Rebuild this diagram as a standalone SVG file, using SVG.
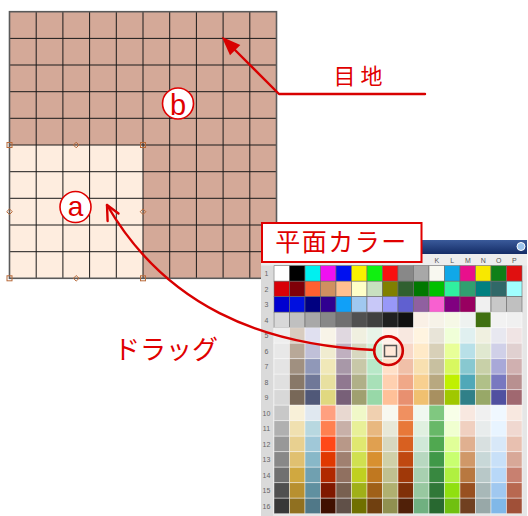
<svg xmlns="http://www.w3.org/2000/svg" width="528" height="516" viewBox="0 0 528 516">
<defs>
<style>
.lbl{font-family:"Noto Sans CJK JP","Noto Sans",sans-serif;fill:#E00000}
.ltr{font-family:"Liberation Sans","DejaVu Sans",sans-serif;fill:#E00000;text-anchor:middle}
.rn{font-family:"Liberation Sans",sans-serif;font-size:7px;fill:#666;text-anchor:middle}
.cl{font-family:"Liberation Sans",sans-serif;font-size:7px;fill:#555;text-anchor:middle}
.d rect{stroke:#6a6a6a;stroke-width:0.6}
.l rect{stroke:#ffffff;stroke-opacity:0.55;stroke-width:0.8}
.arr{fill:none;stroke:#D80000;stroke-width:2.4;stroke-linecap:round;stroke-linejoin:round}
.hd{fill:none;stroke:#B86A3A;stroke-width:1}
</style>
<linearGradient id="tb" x1="0" y1="0" x2="0" y2="1">
<stop offset="0" stop-color="#3A5A9A"/>
<stop offset="1" stop-color="#142C66"/>
</linearGradient>
</defs>
<rect width="528" height="516" fill="#ffffff"/>

<g id="tile-grid">
<rect x="9.5" y="11.7" width="267" height="266.6" fill="#D4A998"/>
<rect x="9.5" y="145" width="133.5" height="133.3" fill="#FEEDDF"/>
<path d="M36.2 11.7V278.3M62.9 11.7V278.3M89.6 11.7V278.3M116.3 11.7V278.3M143 11.7V278.3M169.7 11.7V278.3M196.4 11.7V278.3M223.1 11.7V278.3M249.8 11.7V278.3M9.5 38.4H276.5M9.5 65H276.5M9.5 91.7H276.5M9.5 118.3H276.5M9.5 145H276.5M9.5 171.7H276.5M9.5 198.3H276.5M9.5 225H276.5M9.5 251.7H276.5" stroke="#1a1a1a" stroke-width="1" fill="none"/>
<rect x="9.5" y="11.7" width="267" height="266.6" fill="none" stroke="#5a5a5a" stroke-width="1.6"/>
<g id="handles">
<rect class="hd" x="7" y="142.5" width="5" height="5"/>
<rect class="hd" x="140.5" y="142.5" width="5" height="5"/>
<rect class="hd" x="7" y="275.8" width="5" height="5"/>
<rect class="hd" x="140.5" y="275.8" width="5" height="5"/>
<path class="hd" d="M76.2 142.2L79 145L76.2 147.8L73.4 145Z"/>
<path class="hd" d="M76.2 275.5L79 278.3L76.2 281.1L73.4 278.3Z"/>
<path class="hd" d="M9.5 208.9L12.3 211.7L9.5 214.5L6.7 211.7Z"/>
<path class="hd" d="M143 208.9L145.8 211.7L143 214.5L140.2 211.7Z"/>
</g>
</g>

<g id="marker-b">
<circle cx="178" cy="103.5" r="15.5" fill="#ffffff" stroke="#E00000" stroke-width="1.6"/>
<text class="ltr" x="178" y="114.5" font-size="29">b</text>
</g>
<g id="marker-a">
<circle cx="75.5" cy="207" r="15.5" fill="#ffffff" stroke="#E00000" stroke-width="1.6"/>
<text class="ltr" x="75.5" y="215.5" font-size="28">a</text>
</g>

<g id="palette">
<rect x="261" y="240" width="266" height="276" fill="#E6E6E6"/>
<rect x="261" y="240" width="266" height="14" fill="url(#tb)"/>
<circle cx="521" cy="246.5" r="4" fill="#9CC4EC" stroke="#ffffff" stroke-width="1"/>
<rect x="261" y="254" width="266" height="11.5" fill="#EDEDED"/>
<rect x="261" y="265.5" width="12" height="250.5" fill="#DADADA"/>
<g id="col-letters">
<text class="cl" x="436.8" y="262.5">K</text>
<text class="cl" x="452.3" y="262.5">L</text>
<text class="cl" x="467.8" y="262.5">M</text>
<text class="cl" x="483.3" y="262.5">N</text>
<text class="cl" x="498.8" y="262.5">O</text>
<text class="cl" x="514.3" y="262.5">P</text>
</g>
<g id="row-numbers">
<text class="rn" x="266.5" y="276">1</text>
<text class="rn" x="266.5" y="291.5">2</text>
<text class="rn" x="266.5" y="307">3</text>
<text class="rn" x="266.5" y="322.5">4</text>
<text class="rn" x="266.5" y="338">5</text>
<text class="rn" x="266.5" y="353.5">6</text>
<text class="rn" x="266.5" y="369">7</text>
<text class="rn" x="266.5" y="384.5">8</text>
<text class="rn" x="266.5" y="400">9</text>
<text class="rn" x="266.5" y="415.5">10</text>
<text class="rn" x="266.5" y="431">11</text>
<text class="rn" x="266.5" y="446.5">12</text>
<text class="rn" x="266.5" y="462">13</text>
<text class="rn" x="266.5" y="477.5">14</text>
<text class="rn" x="266.5" y="493">15</text>
<text class="rn" x="266.5" y="508.5">16</text>
</g>
<g id="swatches" transform="translate(274,265.7)">
<g class="d" transform="translate(0,0)">
<rect x="0" width="15.5" height="15.5" fill="#FFFFFF"/><rect x="15.5" width="15.5" height="15.5" fill="#000000"/><rect x="31" width="15.5" height="15.5" fill="#00F0F0"/><rect x="46.5" width="15.5" height="15.5" fill="#F010F0"/><rect x="62" width="15.5" height="15.5" fill="#0010F0"/><rect x="77.5" width="15.5" height="15.5" fill="#F8F000"/><rect x="93" width="15.5" height="15.5" fill="#10F010"/><rect x="108.5" width="15.5" height="15.5" fill="#F81010"/><rect x="124" width="15.5" height="15.5" fill="#888888"/><rect x="139.5" width="15.5" height="15.5" fill="#A8A8A8"/><rect x="155" width="15.5" height="15.5" fill="#F8F8F0"/><rect x="170.5" width="15.5" height="15.5" fill="#10A8E8"/><rect x="186" width="15.5" height="15.5" fill="#E8108C"/><rect x="201.5" width="15.5" height="15.5" fill="#F8E800"/><rect x="217" width="15.5" height="15.5" fill="#108018"/><rect x="232.5" width="15.5" height="15.5" fill="#E01010"/>
</g>
<g class="d" transform="translate(0,15.5)">
<rect x="0" width="15.5" height="15.5" fill="#D80008"/><rect x="15.5" width="15.5" height="15.5" fill="#800008"/><rect x="31" width="15.5" height="15.5" fill="#FF6030"/><rect x="46.5" width="15.5" height="15.5" fill="#D09060"/><rect x="62" width="15.5" height="15.5" fill="#FFC090"/><rect x="77.5" width="15.5" height="15.5" fill="#FFFFC8"/><rect x="93" width="15.5" height="15.5" fill="#C8E0C0"/><rect x="108.5" width="15.5" height="15.5" fill="#808000"/><rect x="124" width="15.5" height="15.5" fill="#306030"/><rect x="139.5" width="15.5" height="15.5" fill="#007800"/><rect x="155" width="15.5" height="15.5" fill="#00C000"/><rect x="170.5" width="15.5" height="15.5" fill="#30F0A0"/><rect x="186" width="15.5" height="15.5" fill="#30A070"/><rect x="201.5" width="15.5" height="15.5" fill="#008080"/><rect x="217" width="15.5" height="15.5" fill="#306868"/><rect x="232.5" width="15.5" height="15.5" fill="#A0FFFF"/>
</g>
<g class="d" transform="translate(0,31)">
<rect x="0" width="15.5" height="15.5" fill="#0000D0"/><rect x="15.5" width="15.5" height="15.5" fill="#0010E0"/><rect x="31" width="15.5" height="15.5" fill="#000080"/><rect x="46.5" width="15.5" height="15.5" fill="#300090"/><rect x="62" width="15.5" height="15.5" fill="#10A0F8"/><rect x="77.5" width="15.5" height="15.5" fill="#A0C8F0"/><rect x="93" width="15.5" height="15.5" fill="#C8C8F8"/><rect x="108.5" width="15.5" height="15.5" fill="#9898F8"/><rect x="124" width="15.5" height="15.5" fill="#6060D0"/><rect x="139.5" width="15.5" height="15.5" fill="#9060A0"/><rect x="155" width="15.5" height="15.5" fill="#F860D0"/><rect x="170.5" width="15.5" height="15.5" fill="#800080"/><rect x="186" width="15.5" height="15.5" fill="#980060"/><rect x="201.5" width="15.5" height="15.5" fill="#F0F0F0"/><rect x="217" width="15.5" height="15.5" fill="#C8C8C8"/><rect x="232.5" width="15.5" height="15.5" fill="#C0C0C0"/>
</g>
<g class="d" transform="translate(0,46.5)">
<rect x="0" width="15.5" height="15.5" fill="#D8D8D8"/><rect x="15.5" width="15.5" height="15.5" fill="#C0C0C0"/><rect x="31" width="15.5" height="15.5" fill="#A8A8A8"/><rect x="46.5" width="15.5" height="15.5" fill="#888888"/><rect x="62" width="15.5" height="15.5" fill="#707070"/><rect x="77.5" width="15.5" height="15.5" fill="#505050"/><rect x="93" width="15.5" height="15.5" fill="#404040"/><rect x="108.5" width="15.5" height="15.5" fill="#202020"/><rect x="124" width="15.5" height="15.5" fill="#101010"/>
</g>
<g class="l" transform="translate(0,46.5)">
<rect x="139.5" width="15.5" height="15.5" fill="#FAF0E6"/><rect x="155" width="15.5" height="15.5" fill="#F6F2E8"/><rect x="170.5" width="15.5" height="15.5" fill="#F6F8E6"/><rect x="186" width="15.5" height="15.5" fill="#EEF2F0"/><rect x="201.5" width="15.5" height="15.5" fill="#407010"/><rect x="217" width="15.5" height="15.5" fill="#F2F2F2"/><rect x="232.5" width="15.5" height="15.5" fill="#F0F0F0"/>
</g>
<g class="l" transform="translate(0,62)">
<rect x="0" width="15.5" height="15.5" fill="#EEEEEE"/><rect x="15.5" width="15.5" height="15.5" fill="#D8CCC0"/><rect x="31" width="15.5" height="15.5" fill="#E0E0F0"/><rect x="46.5" width="15.5" height="15.5" fill="#F8F4E8"/><rect x="62" width="15.5" height="15.5" fill="#E0D8E0"/><rect x="77.5" width="15.5" height="15.5" fill="#F0F0E0"/><rect x="93" width="15.5" height="15.5" fill="#E8F4E8"/><rect x="108.5" width="15.5" height="15.5" fill="#FFF0E8"/><rect x="124" width="15.5" height="15.5" fill="#F8E8E0"/><rect x="139.5" width="15.5" height="15.5" fill="#FFF4E0"/><rect x="155" width="15.5" height="15.5" fill="#E8E4D8"/><rect x="170.5" width="15.5" height="15.5" fill="#F0FFD8"/><rect x="186" width="15.5" height="15.5" fill="#E0F0F0"/><rect x="201.5" width="15.5" height="15.5" fill="#F0F0E0"/><rect x="217" width="15.5" height="15.5" fill="#E8E8F0"/><rect x="232.5" width="15.5" height="15.5" fill="#F0E4E4"/>
</g>
<g class="l" transform="translate(0,77.5)">
<rect x="0" width="15.5" height="15.5" fill="#E8E8E8"/><rect x="15.5" width="15.5" height="15.5" fill="#B8A898"/><rect x="31" width="15.5" height="15.5" fill="#C0C0D8"/><rect x="46.5" width="15.5" height="15.5" fill="#F0ECD0"/><rect x="62" width="15.5" height="15.5" fill="#C0B0C0"/><rect x="77.5" width="15.5" height="15.5" fill="#D8D8C0"/><rect x="93" width="15.5" height="15.5" fill="#D0F0D8"/><rect x="108.5" width="15.5" height="15.5" fill="#FFE8D8"/><rect x="124" width="15.5" height="15.5" fill="#F8D8C8"/><rect x="139.5" width="15.5" height="15.5" fill="#FFEAC8"/><rect x="155" width="15.5" height="15.5" fill="#D8D0B8"/><rect x="170.5" width="15.5" height="15.5" fill="#E8FF98"/><rect x="186" width="15.5" height="15.5" fill="#B8E0E8"/><rect x="201.5" width="15.5" height="15.5" fill="#E0E8D0"/><rect x="217" width="15.5" height="15.5" fill="#D0D0E8"/><rect x="232.5" width="15.5" height="15.5" fill="#E0D0D0"/>
</g>
<g class="l" transform="translate(0,93)">
<rect x="0" width="15.5" height="15.5" fill="#E4E4E4"/><rect x="15.5" width="15.5" height="15.5" fill="#A09080"/><rect x="31" width="15.5" height="15.5" fill="#9098B8"/><rect x="46.5" width="15.5" height="15.5" fill="#F0E8B8"/><rect x="62" width="15.5" height="15.5" fill="#A898A8"/><rect x="77.5" width="15.5" height="15.5" fill="#C8C8A8"/><rect x="93" width="15.5" height="15.5" fill="#B8E8C8"/><rect x="108.5" width="15.5" height="15.5" fill="#FFE0C8"/><rect x="124" width="15.5" height="15.5" fill="#F0C0A8"/><rect x="139.5" width="15.5" height="15.5" fill="#F8E0B0"/><rect x="155" width="15.5" height="15.5" fill="#C8C0A0"/><rect x="170.5" width="15.5" height="15.5" fill="#D8F860"/><rect x="186" width="15.5" height="15.5" fill="#88C8D0"/><rect x="201.5" width="15.5" height="15.5" fill="#C8D0A8"/><rect x="217" width="15.5" height="15.5" fill="#A8A8D8"/><rect x="232.5" width="15.5" height="15.5" fill="#D0B0B0"/>
</g>
<g class="l" transform="translate(0,108.5)">
<rect x="0" width="15.5" height="15.5" fill="#E0E0E0"/><rect x="15.5" width="15.5" height="15.5" fill="#887868"/><rect x="31" width="15.5" height="15.5" fill="#707898"/><rect x="46.5" width="15.5" height="15.5" fill="#E8E0A0"/><rect x="62" width="15.5" height="15.5" fill="#907890"/><rect x="77.5" width="15.5" height="15.5" fill="#B0B088"/><rect x="93" width="15.5" height="15.5" fill="#A8E0B8"/><rect x="108.5" width="15.5" height="15.5" fill="#FFD0B0"/><rect x="124" width="15.5" height="15.5" fill="#F0A888"/><rect x="139.5" width="15.5" height="15.5" fill="#F8D090"/><rect x="155" width="15.5" height="15.5" fill="#B8A880"/><rect x="170.5" width="15.5" height="15.5" fill="#C0F000"/><rect x="186" width="15.5" height="15.5" fill="#50A8B8"/><rect x="201.5" width="15.5" height="15.5" fill="#B0C088"/><rect x="217" width="15.5" height="15.5" fill="#7878C0"/><rect x="232.5" width="15.5" height="15.5" fill="#B89090"/>
</g>
<g class="l" transform="translate(0,124)">
<rect x="0" width="15.5" height="15.5" fill="#D8D8D8"/><rect x="15.5" width="15.5" height="15.5" fill="#786858"/><rect x="31" width="15.5" height="15.5" fill="#505878"/><rect x="46.5" width="15.5" height="15.5" fill="#E0D880"/><rect x="62" width="15.5" height="15.5" fill="#786078"/><rect x="77.5" width="15.5" height="15.5" fill="#A0A070"/><rect x="93" width="15.5" height="15.5" fill="#98D8A8"/><rect x="108.5" width="15.5" height="15.5" fill="#FFC098"/><rect x="124" width="15.5" height="15.5" fill="#E89070"/><rect x="139.5" width="15.5" height="15.5" fill="#F0C070"/><rect x="155" width="15.5" height="15.5" fill="#A89060"/><rect x="170.5" width="15.5" height="15.5" fill="#A0C800"/><rect x="186" width="15.5" height="15.5" fill="#308088"/><rect x="201.5" width="15.5" height="15.5" fill="#98A868"/><rect x="217" width="15.5" height="15.5" fill="#5050A0"/><rect x="232.5" width="15.5" height="15.5" fill="#A06870"/>
</g>
<g class="l" transform="translate(0,139.5)">
<rect x="0" width="15.5" height="15.5" fill="#C8C8C8"/><rect x="15.5" width="15.5" height="15.5" fill="#F8F0D8"/><rect x="31" width="15.5" height="15.5" fill="#E0E8F0"/><rect x="46.5" width="15.5" height="15.5" fill="#FFA080"/><rect x="62" width="15.5" height="15.5" fill="#E8D8D0"/><rect x="77.5" width="15.5" height="15.5" fill="#F0F8C8"/><rect x="93" width="15.5" height="15.5" fill="#F0D0B0"/><rect x="108.5" width="15.5" height="15.5" fill="#F8F8F0"/><rect x="124" width="15.5" height="15.5" fill="#F09060"/><rect x="139.5" width="15.5" height="15.5" fill="#F0F8F0"/><rect x="155" width="15.5" height="15.5" fill="#80C880"/><rect x="170.5" width="15.5" height="15.5" fill="#F8FFE8"/><rect x="186" width="15.5" height="15.5" fill="#F8E8E0"/><rect x="201.5" width="15.5" height="15.5" fill="#F0F0F0"/><rect x="217" width="15.5" height="15.5" fill="#F0F8FF"/><rect x="232.5" width="15.5" height="15.5" fill="#F8E8E0"/>
</g>
<g class="l" transform="translate(0,155)">
<rect x="0" width="15.5" height="15.5" fill="#B0B0B0"/><rect x="15.5" width="15.5" height="15.5" fill="#F0E0B0"/><rect x="31" width="15.5" height="15.5" fill="#B8D8E0"/><rect x="46.5" width="15.5" height="15.5" fill="#FF8050"/><rect x="62" width="15.5" height="15.5" fill="#C8B0A8"/><rect x="77.5" width="15.5" height="15.5" fill="#E8F098"/><rect x="93" width="15.5" height="15.5" fill="#E8B880"/><rect x="108.5" width="15.5" height="15.5" fill="#E8E8D8"/><rect x="124" width="15.5" height="15.5" fill="#E87838"/><rect x="139.5" width="15.5" height="15.5" fill="#E0F0E0"/><rect x="155" width="15.5" height="15.5" fill="#68B868"/><rect x="170.5" width="15.5" height="15.5" fill="#F0FFD0"/><rect x="186" width="15.5" height="15.5" fill="#F0D0C0"/><rect x="201.5" width="15.5" height="15.5" fill="#E8ECEC"/><rect x="217" width="15.5" height="15.5" fill="#E8F4FF"/><rect x="232.5" width="15.5" height="15.5" fill="#F0D8D0"/>
</g>
<g class="l" transform="translate(0,170.5)">
<rect x="0" width="15.5" height="15.5" fill="#989898"/><rect x="15.5" width="15.5" height="15.5" fill="#E8D090"/><rect x="31" width="15.5" height="15.5" fill="#A0C8D8"/><rect x="46.5" width="15.5" height="15.5" fill="#FF4818"/><rect x="62" width="15.5" height="15.5" fill="#B89888"/><rect x="77.5" width="15.5" height="15.5" fill="#E0E870"/><rect x="93" width="15.5" height="15.5" fill="#E0A050"/><rect x="108.5" width="15.5" height="15.5" fill="#D8D8C0"/><rect x="124" width="15.5" height="15.5" fill="#D86020"/><rect x="139.5" width="15.5" height="15.5" fill="#D0E8D8"/><rect x="155" width="15.5" height="15.5" fill="#50A850"/><rect x="170.5" width="15.5" height="15.5" fill="#E0FF98"/><rect x="186" width="15.5" height="15.5" fill="#E0B090"/><rect x="201.5" width="15.5" height="15.5" fill="#D8E0E0"/><rect x="217" width="15.5" height="15.5" fill="#D8E8F8"/><rect x="232.5" width="15.5" height="15.5" fill="#E8C0B0"/>
</g>
<g class="l" transform="translate(0,186)">
<rect x="0" width="15.5" height="15.5" fill="#888888"/><rect x="15.5" width="15.5" height="15.5" fill="#E0C070"/><rect x="31" width="15.5" height="15.5" fill="#88B8C8"/><rect x="46.5" width="15.5" height="15.5" fill="#E03800"/><rect x="62" width="15.5" height="15.5" fill="#A08070"/><rect x="77.5" width="15.5" height="15.5" fill="#D0E050"/><rect x="93" width="15.5" height="15.5" fill="#D89030"/><rect x="108.5" width="15.5" height="15.5" fill="#D0D0A8"/><rect x="124" width="15.5" height="15.5" fill="#C04810"/><rect x="139.5" width="15.5" height="15.5" fill="#B8D8C0"/><rect x="155" width="15.5" height="15.5" fill="#409848"/><rect x="170.5" width="15.5" height="15.5" fill="#C8FF70"/><rect x="186" width="15.5" height="15.5" fill="#D09868"/><rect x="201.5" width="15.5" height="15.5" fill="#C8D8D8"/><rect x="217" width="15.5" height="15.5" fill="#C8E0F8"/><rect x="232.5" width="15.5" height="15.5" fill="#D8A898"/>
</g>
<g class="l" transform="translate(0,201.5)">
<rect x="0" width="15.5" height="15.5" fill="#707070"/><rect x="15.5" width="15.5" height="15.5" fill="#D0A840"/><rect x="31" width="15.5" height="15.5" fill="#70A0B0"/><rect x="46.5" width="15.5" height="15.5" fill="#B02800"/><rect x="62" width="15.5" height="15.5" fill="#907060"/><rect x="77.5" width="15.5" height="15.5" fill="#C0D020"/><rect x="93" width="15.5" height="15.5" fill="#C07820"/><rect x="108.5" width="15.5" height="15.5" fill="#C0C090"/><rect x="124" width="15.5" height="15.5" fill="#A03808"/><rect x="139.5" width="15.5" height="15.5" fill="#A8D0B0"/><rect x="155" width="15.5" height="15.5" fill="#388840"/><rect x="170.5" width="15.5" height="15.5" fill="#B0F040"/><rect x="186" width="15.5" height="15.5" fill="#B87840"/><rect x="201.5" width="15.5" height="15.5" fill="#B8C8C8"/><rect x="217" width="15.5" height="15.5" fill="#B8D8F8"/><rect x="232.5" width="15.5" height="15.5" fill="#C88070"/>
</g>
<g class="l" transform="translate(0,217)">
<rect x="0" width="15.5" height="15.5" fill="#505050"/><rect x="15.5" width="15.5" height="15.5" fill="#B89030"/><rect x="31" width="15.5" height="15.5" fill="#6090A0"/><rect x="46.5" width="15.5" height="15.5" fill="#801800"/><rect x="62" width="15.5" height="15.5" fill="#786050"/><rect x="77.5" width="15.5" height="15.5" fill="#A0B018"/><rect x="93" width="15.5" height="15.5" fill="#A06018"/><rect x="108.5" width="15.5" height="15.5" fill="#B0B070"/><rect x="124" width="15.5" height="15.5" fill="#803008"/><rect x="139.5" width="15.5" height="15.5" fill="#98C8A0"/><rect x="155" width="15.5" height="15.5" fill="#307838"/><rect x="170.5" width="15.5" height="15.5" fill="#90E010"/><rect x="186" width="15.5" height="15.5" fill="#985020"/><rect x="201.5" width="15.5" height="15.5" fill="#A8B8B8"/><rect x="217" width="15.5" height="15.5" fill="#A0C8F0"/><rect x="232.5" width="15.5" height="15.5" fill="#B86850"/>
</g>
<g class="l" transform="translate(0,232.5)">
<rect x="0" width="15.5" height="15.5" fill="#383838"/><rect x="15.5" width="15.5" height="15.5" fill="#907020"/><rect x="31" width="15.5" height="15.5" fill="#507888"/><rect x="46.5" width="15.5" height="15.5" fill="#401000"/><rect x="62" width="15.5" height="15.5" fill="#605048"/><rect x="77.5" width="15.5" height="15.5" fill="#707000"/><rect x="93" width="15.5" height="15.5" fill="#704010"/><rect x="108.5" width="15.5" height="15.5" fill="#909050"/><rect x="124" width="15.5" height="15.5" fill="#502008"/><rect x="139.5" width="15.5" height="15.5" fill="#70B080"/><rect x="155" width="15.5" height="15.5" fill="#286830"/><rect x="170.5" width="15.5" height="15.5" fill="#70C010"/><rect x="186" width="15.5" height="15.5" fill="#704020"/><rect x="201.5" width="15.5" height="15.5" fill="#98A8A8"/><rect x="217" width="15.5" height="15.5" fill="#80B8E8"/><rect x="232.5" width="15.5" height="15.5" fill="#A05038"/>
</g>
</g>
<rect x="384.5" y="345.5" width="12" height="11" fill="none" stroke="#555555" stroke-width="1.5"/>
</g>

<g id="label-palette">
<rect x="262" y="223" width="159.5" height="39" fill="#ffffff" stroke="#E00000" stroke-width="2"/>
<text class="lbl" x="341.5" y="251" font-size="25" letter-spacing="1.5" text-anchor="middle">平面カラー</text>
</g>

<g id="label-joint">
<text class="lbl" x="360.5" y="83.5" font-size="22" letter-spacing="5" text-anchor="middle">目地</text>
</g>

<g id="label-drag">
<text class="lbl" x="166" y="358.5" font-size="26" text-anchor="middle">ドラッグ</text>
</g>

<g id="connectors">
<path class="arr" d="M425 94H279L235 50"/>
<polygon points="221.7,36.7 240.3,45 230,55.3" fill="#D80000"/>
<circle cx="388.5" cy="350.7" r="14.3" fill="none" stroke="#D00000" stroke-width="2.6"/>
<path class="arr" d="M374.2 350C260 345 165 305 107 205"/>
<path class="arr" d="M107.6 221L107 205L118.5 213.5"/>
</g>
</svg>
